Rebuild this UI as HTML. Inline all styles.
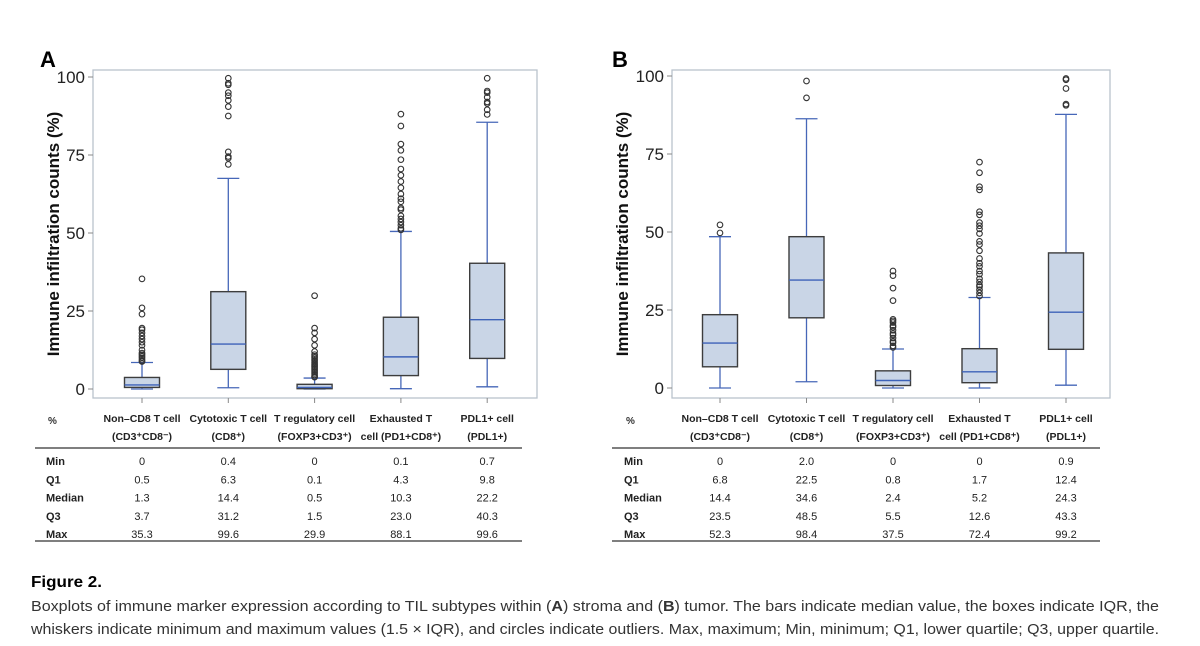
<!DOCTYPE html>
<html><head><meta charset="utf-8"><style>
html,body{margin:0;padding:0;background:#fff;}
svg{display:block;font-family:"Liberation Sans",Arial,sans-serif;}
</style></head><body>
<svg id="fig" width="1200" height="646" viewBox="0 0 1200 646" xmlns="http://www.w3.org/2000/svg">
<text x="40" y="67" font-size="22" font-weight="bold">A</text>
<text x="612" y="67" font-size="22" font-weight="bold">B</text>
<g id="pa"></g>
<g id="pb"></g>
<text x="31" y="587" font-size="16" font-weight="bold" textLength="71" lengthAdjust="spacingAndGlyphs">Figure 2.</text>
<text x="31" y="611" font-size="15" fill="#333" textLength="1128" lengthAdjust="spacingAndGlyphs">Boxplots of immune marker expression according to TIL subtypes within (<tspan font-weight="bold">A</tspan>) stroma and (<tspan font-weight="bold">B</tspan>) tumor. The bars indicate median value, the boxes indicate IQR, the</text>
<text x="31" y="634" font-size="15" fill="#333" textLength="1128" lengthAdjust="spacingAndGlyphs">whiskers indicate minimum and maximum values (1.5 × IQR), and circles indicate outliers. Max, maximum; Min, minimum; Q1, lower quartile; Q3, upper quartile.</text>
</svg>
<script>
const categories1 = ["Non\u2013CD8 T cell","Cytotoxic T cell","T regulatory cell","Exhausted T","PDL1+ cell"];
const categories2 = ["(CD3\u207aCD8\u207b)","(CD8\u207a)","(FOXP3+CD3\u207a)","cell (PD1+CD8\u207a)","(PDL1+)"];
const yTicks = [0,25,50,75,100];
const statLabels = ["Min","Q1","Median","Q3","Max"];
// Panel A (stroma)
const aMin = [0,0.4,0,0.1,0.7];
const aQ1 = [0.5,6.3,0.1,4.3,9.8];
const aMed = [1.3,14.4,0.5,10.3,22.2];
const aQ3 = [3.7,31.2,1.5,23.0,40.3];
const aMax = [35.3,99.6,29.9,88.1,99.6];
const aWhiskerHi = [8.5,67.5,3.5,50.5,85.5];
const aWhiskerLo = [0,0.4,0,0.1,0.7];
const aMinTxt = ["0","0.4","0","0.1","0.7"];
const aQ1Txt = ["0.5","6.3","0.1","4.3","9.8"];
const aMedTxt = ["1.3","14.4","0.5","10.3","22.2"];
const aQ3Txt = ["3.7","31.2","1.5","23.0","40.3"];
const aMaxTxt = ["35.3","99.6","29.9","88.1","99.6"];
const aOut0 = [35.3,26,24,19.5,19,18,17,16,15,14,12.5,11.5,11,10.5,10,9.5,9,8.8];
const aOut1 = [99.6,98,97.5,95,94,92.5,90.5,87.5,76,74.5,74,72];
const aOut2 = [29.9,19.5,18,16,14,12,11,10.5,10,9.5,9,8.5,8,7.5,7,6.5,6,5.5,5,4.5,4,3.8];
const aOut3 = [88.1,84.3,78.5,76.5,73.5,70.5,68.5,66.5,64.5,62.5,61,60,58,57.5,55.5,54.5,53.5,52.5,51.5,51];
const aOut4 = [99.6,95.5,95,93.5,92,91.5,89.5,88];
// Panel B (tumor)
const bMin = [0,2.0,0,0,0.9];
const bQ1 = [6.8,22.5,0.8,1.7,12.4];
const bMed = [14.4,34.6,2.4,5.2,24.3];
const bQ3 = [23.5,48.5,5.5,12.6,43.3];
const bMax = [52.3,98.4,37.5,72.4,99.2];
const bWhiskerHi = [48.5,86.3,12.5,29,87.7];
const bWhiskerLo = [0,2.0,0,0,0.9];
const bMinTxt = ["0","2.0","0","0","0.9"];
const bQ1Txt = ["6.8","22.5","0.8","1.7","12.4"];
const bMedTxt = ["14.4","34.6","2.4","5.2","24.3"];
const bQ3Txt = ["23.5","48.5","5.5","12.6","43.3"];
const bMaxTxt = ["52.3","98.4","37.5","72.4","99.2"];
const bOut0 = [52.3,49.7];
const bOut1 = [98.4,93];
const bOut2 = [37.5,36,32,28,22,21.5,21,20,19.5,18.5,17.5,17,16,15,14.5,13.5,13];
const bOut3 = [72.4,69,64.5,63.5,56.5,55.5,53,52,51,49.5,47,46,44,41.5,40,39,37.5,36.5,35,34,33,32.5,31.5,30.5,29.5];
const bOut4 = [99.2,98.8,96,91,90.6];

const NS="http://www.w3.org/2000/svg";
function mk(parent,tag,attrs,txt){const e=document.createElementNS(NS,tag);for(const k in attrs)e.setAttribute(k,attrs[k]);if(txt!==undefined)e.textContent=txt;parent.appendChild(e);return e;}

function drawPanel(g,cfg){
  const yS=v=>cfg.y0+(cfg.y100-cfg.y0)*v/100;
  const xS=i=>cfg.x0+cfg.step*i;
  let e=mk(g,'rect',{x:cfg.fl,y:70,width:cfg.fr-cfg.fl,height:328,fill:'none',stroke:'#b9c3cc','stroke-width':1.3});
  
  
  yTicks.forEach(t=>{
    const y=yS(t);
    e=mk(g,'line',{x1:cfg.fl-5,x2:cfg.fl,y1:y,y2:y,stroke:'#888'});
    
    
    e=mk(g,'text',{x:cfg.fl-8,y:y+6,'font-size':17,'text-anchor':'end',fill:'#222'},String(t));
    
    
  });
  e=mk(g,'text',{transform:`translate(${cfg.yl},234) rotate(-90)`,'font-size':17,'font-weight':'bold','text-anchor':'middle',fill:'#111'},'Immune infiltration counts (%)');
  
  
  const bw=35;
  for(let i=0;i<5;i++){
    const x=xS(i);
    e=mk(g,'line',{x1:x,x2:x,y1:398,y2:403,stroke:'#888'});
    
    
    e=mk(g,'line',{x1:x,x2:x,y1:yS(cfg.q3[i]),y2:yS(cfg.wh[i]),stroke:'#4667b8','stroke-width':1.3});
    
    
    e=mk(g,'line',{x1:x,x2:x,y1:yS(cfg.q1[i]),y2:yS(cfg.wl[i]),stroke:'#4667b8','stroke-width':1.3});
    
    
    [cfg.wh[i],cfg.wl[i]].forEach(v=>{
      e=mk(g,'line',{x1:x-11,x2:x+11,y1:yS(v),y2:yS(v),stroke:'#4667b8','stroke-width':1.3});
      
      
    });
    const yt=yS(cfg.q3[i]),yb=yS(cfg.q1[i]);
    e=mk(g,'rect',{x:x-bw/2,y:yt,width:bw,height:Math.max(yb-yt,1),fill:'#c9d5e6',stroke:'#3d3d3d','stroke-width':1.4});
    
    
    e=mk(g,'line',{x1:x-bw/2,x2:x+bw/2,y1:yS(cfg.med[i]),y2:yS(cfg.med[i]),stroke:'#3d62b8','stroke-width':1.4});
    
    
    cfg.out[i].forEach(v=>{
      e=mk(g,'circle',{cx:x,cy:yS(v),r:2.8,fill:'none',stroke:'#333','stroke-width':1.1});
      
      
    });
    e=mk(g,'text',{x:x,y:422,'font-size':10.5,'font-weight':'bold','text-anchor':'middle',fill:'#222'},categories1[i]);
    
    
    e=mk(g,'text',{x:x,y:440,'font-size':10.5,'font-weight':'bold','text-anchor':'middle',fill:'#222'},categories2[i]);
    
    
    cfg.tbl.forEach((row,r)=>{
      e=mk(g,'text',{x:x,y:465+18.3*r,'font-size':11,'text-anchor':'middle',fill:'#222'},row[i]);
      
      
    });
  }
  e=mk(g,'text',{x:cfg.pct,y:424,'font-size':10,'font-weight':'bold',fill:'#333'},'%');
  
  
  statLabels.forEach((s,r)=>{
    e=mk(g,'text',{x:cfg.lab,y:465+18.3*r,'font-size':11,'font-weight':'bold',fill:'#222'},s);
    
    
  });
  [448,541].forEach(y=>{
    e=mk(g,'line',{x1:cfg.t0,x2:cfg.t1,y1:y,y2:y,stroke:'#555','stroke-width':1.6});
    
    
  });
}
drawPanel(document.getElementById('pa'),{fl:93,fr:537,x0:142,step:86.3,y0:389,y100:77,yl:59,pct:48,lab:46,t0:35,t1:522,
  q1:aQ1,q3:aQ3,med:aMed,wh:aWhiskerHi,wl:aWhiskerLo,out:[aOut0,aOut1,aOut2,aOut3,aOut4],
  tbl:[aMinTxt,aQ1Txt,aMedTxt,aQ3Txt,aMaxTxt]});
drawPanel(document.getElementById('pb'),{fl:672,fr:1110,x0:720,step:86.5,y0:388,y100:76,yl:628,pct:626,lab:624,t0:612,t1:1100,
  q1:bQ1,q3:bQ3,med:bMed,wh:bWhiskerHi,wl:bWhiskerLo,out:[bOut0,bOut1,bOut2,bOut3,bOut4],
  tbl:[bMinTxt,bQ1Txt,bMedTxt,bQ3Txt,bMaxTxt]});
</script>
</body></html>
